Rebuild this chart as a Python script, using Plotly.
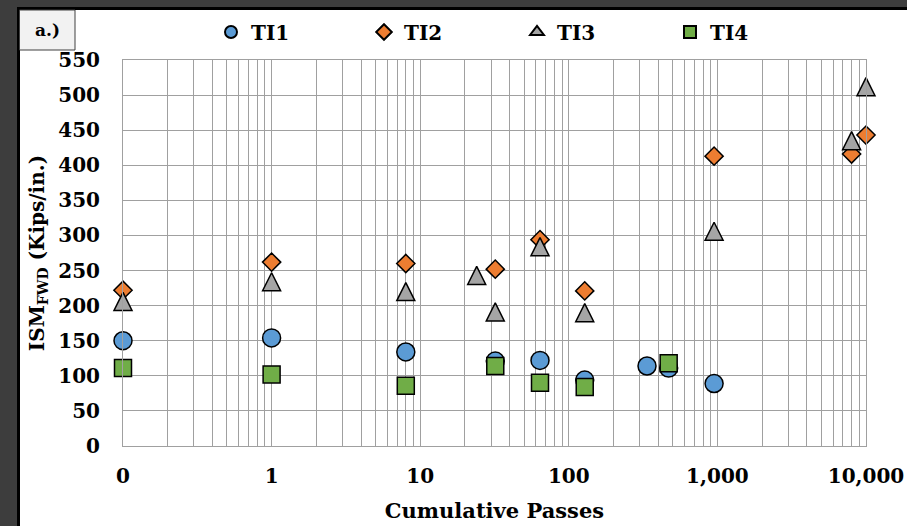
import plotly.graph_objects as go

# Cumulative passes (0 passes plotted at the 0.1 position of the log axis)
ti1_x = [0.1, 1, 8, 32, 64, 128, 336, 470, 950]
ti1_y = [150, 154, 134, 121, 122, 94, 114, 111, 89]

ti2_x = [0.1, 1, 8, 32, 64, 128, 950, 8000, 10000]
ti2_y = [222, 262, 260, 252, 294, 221, 413, 416, 443]

ti3_x = [0.1, 1, 8, 24, 32, 64, 128, 950, 8000, 10000]
ti3_y = [206, 234, 220, 243, 191, 284, 190, 306, 435, 512]

ti4_x = [0.1, 1, 8, 32, 64, 128, 470]
ti4_y = [111, 102, 86, 114, 90, 84, 118]

x_tickvals = [0.1, 1, 10, 100, 1000, 10000]
x_ticktext = ["0", "1", "10", "100", "1,000", "10,000"]
y_tickvals = list(range(0, 551, 50))

FONT = "DejaVu Serif"
GRID = "#a0a0a0"
OUTLINE = dict(color="#000000", width=1.5)

fig = go.Figure()
fig.add_trace(go.Scatter(x=ti1_x, y=ti1_y, mode="markers", name="TI1", cliponaxis=False,
                         marker=dict(symbol="circle", size=18, color="#5B9BD5", line=OUTLINE)))
fig.add_trace(go.Scatter(x=ti2_x, y=ti2_y, mode="markers", name="TI2", cliponaxis=False,
                         marker=dict(symbol="diamond", size=14, color="#ED7D31", line=OUTLINE)))
# upright triangle as tall as it is wide, centred on the point
fig.add_trace(go.Scatter(x=ti3_x, y=ti3_y, mode="markers", name="TI3", showlegend=False,
                         legendgroup="TI3", cliponaxis=False,
                         marker=dict(symbol="arrow-down", angle=180, standoff=9, size=18,
                                     color="#A5A5A5", line=OUTLINE)))
# legend key for TI3
fig.add_trace(go.Scatter(x=[None], y=[None], mode="markers", name="TI3", legendgroup="TI3",
                         marker=dict(symbol="triangle-up", size=12, color="#A5A5A5", line=OUTLINE)))
fig.add_trace(go.Scatter(x=ti4_x, y=ti4_y, mode="markers", name="TI4", cliponaxis=False,
                         marker=dict(symbol="square", size=17, color="#70AD47", line=OUTLINE)))

# minor gridlines at 2..9 of every decade
minor_vals = [k * d for d in (0.1, 1, 10, 100, 1000) for k in range(2, 10)]

W, H = 907, 526
ML, MR, MT, MB = 123, 41, 60, 80
PW, PH = W - ML - MR, H - MT - MB


def px_x(p):
    return (p - ML) / PW


def px_y(p):
    return (H - MB - p) / PH


fig.update_layout(
    width=W, height=H,
    margin=dict(l=ML, r=MR, t=MT, b=MB, pad=0, autoexpand=False),
    paper_bgcolor="#3d3d3d",
    plot_bgcolor="#ffffff",
    font=dict(family=FONT, size=20, color="#000000", weight="bold"),
    showlegend=True,
    legend=dict(orientation="h", x=px_x(211), xanchor="left", y=px_y(32), yanchor="middle",
                itemsizing="constant", entrywidth=108, bgcolor="rgba(0,0,0,0)",
                font=dict(family=FONT, size=20, color="#000000", weight="bold"),
                tracegroupgap=0, itemclick=False),
    xaxis=dict(type="log", range=[-1, 4], tickmode="array", tickvals=x_tickvals, ticktext=x_ticktext,
               showgrid=True, gridcolor=GRID, gridwidth=1, zeroline=False, automargin=False,
               showline=True, linecolor=GRID, linewidth=1, mirror=True,
               ticks="", ticklabelstandoff=12,
               minor=dict(tickvals=minor_vals, showgrid=True, gridcolor=GRID, gridwidth=1, ticks=""),
               title=dict(text="Cumulative Passes", standoff=16,
                          font=dict(family=FONT, size=21, color="#000000", weight="bold"))),
    yaxis=dict(range=[0, 550], tickmode="array", tickvals=y_tickvals,
               showgrid=True, gridcolor=GRID, gridwidth=1, zeroline=False, automargin=False,
               showline=True, linecolor=GRID, linewidth=1, mirror=True,
               ticks="", ticklabelstandoff=18,
               title=dict(text="ISM<sub>FWD</sub> (Kips/in.)", standoff=8,
                          font=dict(family=FONT, size=20, color="#000000", weight="bold"))),
    shapes=[
        # white chart canvas with its dark frame line
        dict(type="rect", xref="paper", yref="paper", layer="below",
             x0=px_x(18.5), x1=px_x(940), y0=px_y(560), y1=px_y(8.5),
             fillcolor="#ffffff", line=dict(color="#000000", width=3)),
        # panel label box
        dict(type="rect", xref="paper", yref="paper", layer="above",
             x0=px_x(19.5), x1=px_x(75), y0=px_y(50), y1=px_y(10),
             fillcolor="#f2f2f2", line=dict(color="#404040", width=1)),
    ],
    annotations=[
        dict(text="a.)", xref="paper", yref="paper", x=px_x(47), y=px_y(30),
             xanchor="center", yanchor="middle", showarrow=False,
             font=dict(family=FONT, size=17, color="#000000", weight="bold")),
    ],
)

fig.write_html("out.html")
